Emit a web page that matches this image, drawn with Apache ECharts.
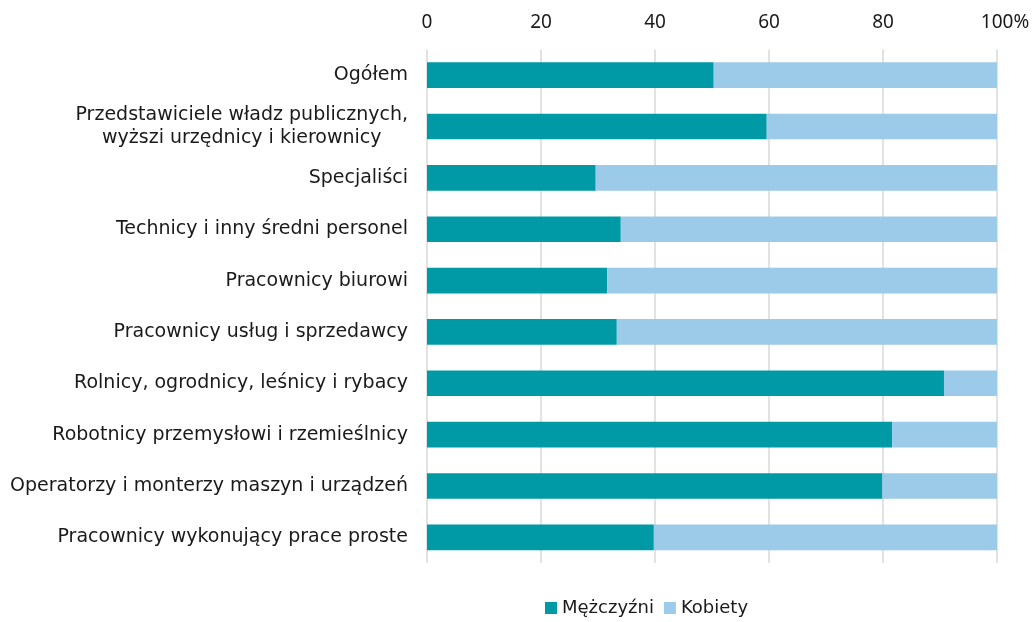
<!DOCTYPE html>
<html>
<head>
<meta charset="utf-8">
<script src="https://cdn.jsdelivr.net/npm/echarts@6/dist/echarts.min.js"></script>
<style>
    html, body { margin: 0; padding: 0; background: #fff; }
    #chart { width: 1035px; height: 622px; }
</style>
</head>
<body>
<div id="chart"></div>
<script>
var categories = [
    'Ogółem',
    'Przedstawiciele władz publicznych,\nwyższi urzędnicy i kierownicy',
    'Specjaliści',
    'Technicy i inny średni personel',
    'Pracownicy biurowi',
    'Pracownicy usług i sprzedawcy',
    'Rolnicy, ogrodnicy, leśnicy i rybacy',
    'Robotnicy przemysłowi i rzemieślnicy',
    'Operatorzy i monterzy maszyn i urządzeń',
    'Pracownicy wykonujący prace proste'
];
var men = [50.3, 59.6, 29.6, 34.0, 31.6, 33.3, 90.7, 81.6, 79.9, 39.8];
var women = [49.7, 40.4, 70.4, 66.0, 68.4, 66.7, 9.3, 18.4, 20.1, 60.2];
var seriesNames = ['Mężczyźni', 'Kobiety'];
var colors = ['#009aa6', '#9ccae9'];

var font = '"DejaVu Sans", sans-serif';
var numFont = '"Noto Sans", sans-serif';
var textColor = '#1a1a1a';

var chart = echarts.init(document.getElementById('chart'));
chart.setOption({
    animation: false,
    color: colors,
    textStyle: { fontFamily: font },
    grid: { left: 427, right: 38, top: 49.5, bottom: 59, containLabel: false },
    legend: {
        top: 599,
        left: 545,
        padding: 0,
        itemWidth: 12,
        itemHeight: 12,
        itemGap: 10,
        icon: 'rect',
        textStyle: { fontSize: 18, color: textColor, fontFamily: font },
        data: seriesNames
    },
    xAxis: {
        type: 'value',
        position: 'top',
        min: 0,
        max: 100,
        interval: 20,
        axisLine: { show: false },
        axisTick: { show: false },
        splitLine: { lineStyle: { color: '#d9d9d9', width: 1.5 } },
        axisLabel: {
            fontSize: 19,
            fontFamily: numFont,
            color: textColor,
            margin: 17,
            formatter: function (v) {
                return v === 100 ? '{p|100%}' : String(v);
            },
            rich: {
                p: { fontSize: 19, color: textColor, fontFamily: numFont, padding: [0, 0, 0, 16] }
            }
        }
    },
    yAxis: {
        type: 'category',
        inverse: true,
        data: categories,
        axisLine: { show: false },
        axisTick: { show: false },
        splitLine: { show: false },
        axisLabel: {
            margin: 19,
            color: textColor,
            formatter: function (v) {
                return v.split('\n').map(function (l) { return '{c|' + l + '}'; }).join('\n');
            },
            rich: {
                c: { fontSize: 19, color: textColor, fontFamily: font, align: 'center', lineHeight: 23 }
            }
        }
    },
    series: [
        {
            name: seriesNames[0],
            type: 'bar',
            stack: 'total',
            barWidth: '50%',
            data: men
        },
        {
            name: seriesNames[1],
            type: 'bar',
            stack: 'total',
            barWidth: '50%',
            data: women
        }
    ]
});
</script>
</body>
</html>
